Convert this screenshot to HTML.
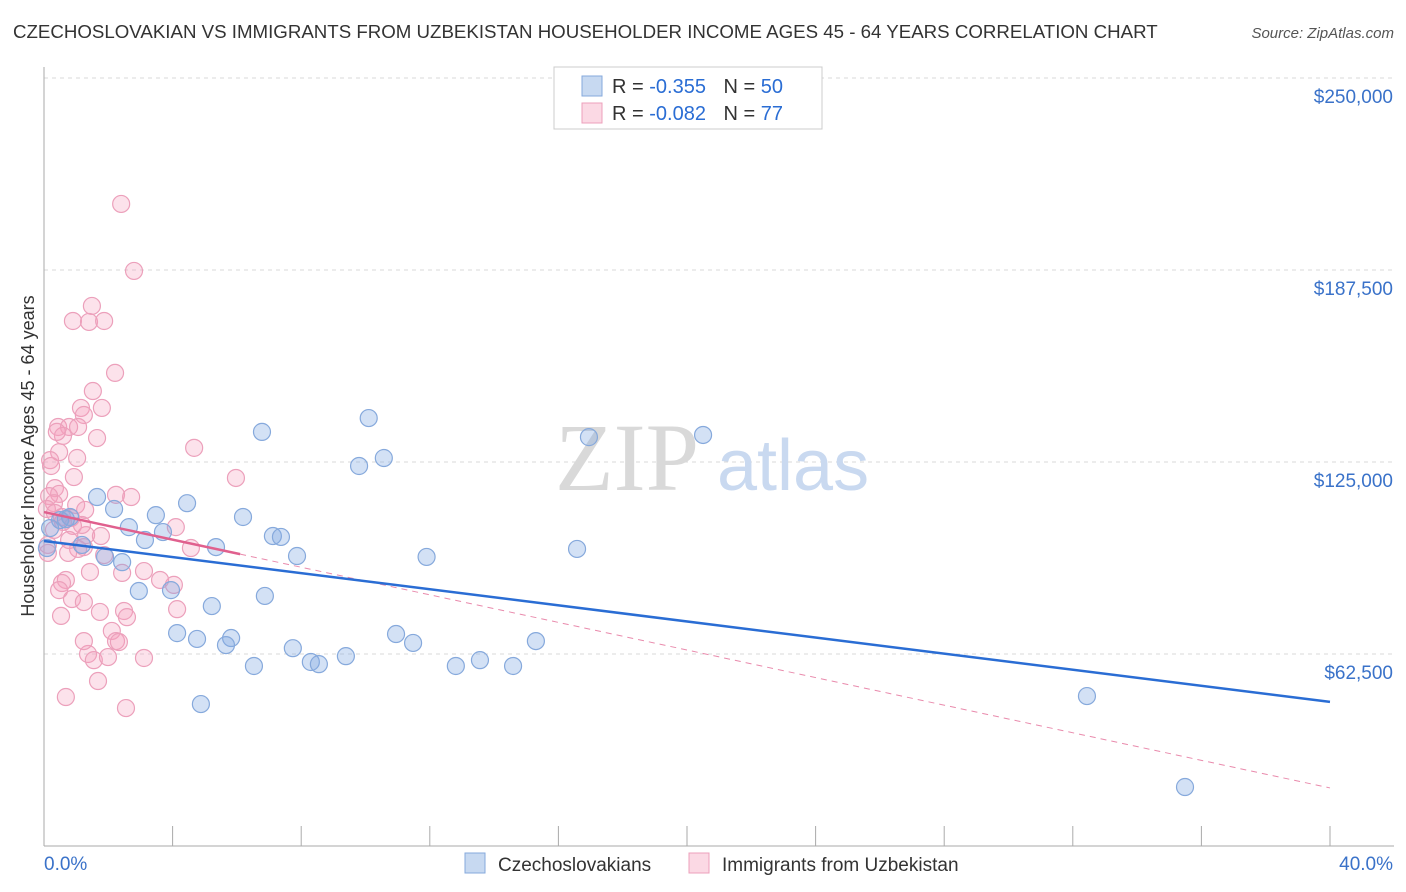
<!DOCTYPE html>
<html><head><meta charset="utf-8">
<style>
body{margin:0;background:#fff;font-family:"Liberation Sans",sans-serif;}
#wrap{position:relative;width:1406px;height:892px;overflow:hidden;}
.t{position:absolute;white-space:nowrap;}
</style></head>
<body>
<div id="wrap">
<div class="t" style="left:13px;top:21px;font-size:18.7px;color:#333;">CZECHOSLOVAKIAN VS IMMIGRANTS FROM UZBEKISTAN HOUSEHOLDER INCOME AGES 45 - 64 YEARS CORRELATION CHART</div>
<div class="t" style="right:12px;top:25px;font-size:15px;color:#555;font-style:italic;">Source: ZipAtlas.com</div>
<svg id="svg" width="1406" height="892" style="position:absolute;left:0;top:0"></svg>
</div>
<script>
const yTicks=[62500,125000,187500,250000];
const yTickLabels=["$62,500","$125,000","$187,500","$250,000"];
const xTickLabels=["0.0%","40.0%"];
const blueX=[1.65,0.68,0.5,2.18,2.64,3.48,3.14,3.7,4.45,6.19,6.78,5.35,7.12,7.37,7.87,10.1,9.8,10.57,16.95,20.5,16.58,11.9,1.18,0.09,1.9,2.43,2.95,3.95,5.22,6.87,4.14,4.76,5.82,5.66,6.53,7.74,8.3,8.55,9.39,10.95,11.48,12.81,13.56,14.59,15.3,4.88,32.44,35.49,0.81,0.19];
const blueY=[113600,106400,106100,109700,103800,107700,99600,102200,111600,107100,134800,97300,100900,100600,94400,139300,123700,126300,133100,133800,96700,94100,98000,97000,94100,92400,83000,83300,78100,81400,69300,67400,67700,65400,58600,64400,59900,59200,61800,69000,66100,58600,60500,58600,66700,46200,48800,19200,107100,103500];
const pinkX=[2.4,2.8,1.49,0.9,1.4,1.87,2.21,1.52,1.8,1.15,1.24,0.44,0.78,1.06,0.59,1.65,4.67,0.47,0.19,1.03,0.22,5.97,0.93,0.34,0.47,0.16,2.24,2.71,0.31,1.0,0.09,1.28,0.34,0.56,0.84,0.59,0.9,4.1,0.31,1.31,1.77,0.78,0.12,4.57,1.06,0.75,1.87,0.12,3.11,1.43,2.43,0.68,0.56,4.04,0.47,0.87,1.24,2.49,4.14,1.74,0.53,2.58,2.11,2.24,2.33,1.37,1.55,1.99,3.11,1.68,0.68,2.55,1.24,1.24,0.4,1.18,3.61];
const pinkY=[209000,187200,175800,170900,170600,170900,154000,148100,142600,142600,140300,136400,136400,136400,133500,132800,129600,128200,125600,126300,123700,119800,120100,116500,114600,113900,114300,113600,111600,111000,109700,109400,108400,107100,106800,105500,104200,103800,102900,101200,100900,99600,98000,97000,96700,95400,94700,95400,89500,89200,88900,86600,85600,85000,83300,80400,79400,76500,77100,76200,74900,74500,70000,66700,66400,62500,60500,61500,61200,53700,48500,44900,66700,97300,134800,104500,86600];
const blueTrend=[99300,46900];   // value at 0% and 40%
const pinkTrend=[108700,18900];  // value at 0% and 40%
const pinkSolidEnd=6.1;

const X0=44,X1=1330,Y0=846,YPER=192/62500;
const xs=v=>X0+(v/40)*(X1-X0);
const ys=v=>Y0-v*YPER;
const svg=document.getElementById('svg');
const NS='http://www.w3.org/2000/svg';
function mk(tag,at){const e=document.createElementNS(NS,tag);for(const k in at)e.setAttribute(k,at[k]);svg.appendChild(e);return e;}

yTicks.forEach((t,i)=>{
 const g=mk('line',{x1:X0,x2:1394,y1:ys(t),y2:ys(t),stroke:'#d8d8d8','stroke-dasharray':'4,4'});
 
 
 const tx=mk('text',{x:1393,y:ys(t)+25,'text-anchor':'end','font-size':19,fill:'#3a72c9','font-family':'Liberation Sans, sans-serif'});
 tx.textContent=yTickLabels[i];
 
 
});
let a=mk('line',{x1:X0,x2:X0,y1:67,y2:Y0,stroke:'#aaa'});


a=mk('line',{x1:X0,x2:1394,y1:Y0,y2:Y0,stroke:'#aaa'});


for(let i=0;i<=10;i++){
 const t=mk('line',{x1:xs(i*4),x2:xs(i*4),y1:826,y2:Y0,stroke:'#aaa'});
 
 
}
[[X0,'start',0],[1393,'end',1]].forEach(([x,an,i])=>{
 const t=mk('text',{x:x,y:870,'text-anchor':an,'font-size':19,fill:'#3a72c9','font-family':'Liberation Sans, sans-serif'});
 t.textContent=xTickLabels[i];
 
 
});
const yt=mk('text',{x:0,y:0,transform:'translate(34,456) rotate(-90)','text-anchor':'middle','font-size':18,fill:'#333','font-family':'Liberation Sans, sans-serif'});
yt.textContent='Householder Income Ages 45 - 64 years';


const wm=mk('text',{x:555,y:490,'font-size':96,fill:'#d9d9d9','font-family':'Liberation Serif, serif'});
wm.textContent='ZIP';


const wm2=mk('text',{x:717,y:490,'font-size':72,fill:'#c9d9f0','font-family':'Liberation Sans, sans-serif'});
wm2.textContent='atlas';



pinkX.forEach((x,i)=>{
 const c=mk('circle',{cx:xs(x),cy:ys(pinkY[i]),r:8.5,fill:'rgba(244,160,188,0.3)',stroke:'#eca0bb','stroke-width':1.2});
 
 
});
blueX.forEach((x,i)=>{
 const c=mk('circle',{cx:xs(x),cy:ys(blueY[i]),r:8.5,fill:'rgba(130,170,225,0.35)',stroke:'#86a9dc','stroke-width':1.2});
 
 
});
const pv=x=>pinkTrend[0]+(pinkTrend[1]-pinkTrend[0])*x/40;
let l=mk('line',{x1:xs(pinkSolidEnd),y1:ys(pv(pinkSolidEnd)),x2:xs(40),y2:ys(pinkTrend[1]),stroke:'#e98aac','stroke-width':1,'stroke-dasharray':'6,5'});


l=mk('line',{x1:xs(0),y1:ys(pinkTrend[0]),x2:xs(pinkSolidEnd),y2:ys(pv(pinkSolidEnd)),stroke:'#e0608e','stroke-width':2.5});


l=mk('line',{x1:xs(0),y1:ys(blueTrend[0]),x2:xs(40),y2:ys(blueTrend[1]),stroke:'#2a6dd4','stroke-width':2.5});



const lb=mk('rect',{x:554,y:67,width:268,height:62,fill:'#fff',stroke:'#ccc'});


[[76,'rgba(130,170,225,0.45)','#86a9dc','-0.355','50'],[103,'rgba(244,160,188,0.4)','#eca0bb','-0.082','77']].forEach(([y,f,s,r,n])=>{
 const sw=mk('rect',{x:582,y:y,width:20,height:20,fill:f,stroke:s});
 
 
 const t=mk('text',{x:612,y:y+17,'font-size':20,fill:'#333','font-family':'Liberation Sans, sans-serif'});
 t.innerHTML='R = <tspan fill="#2a6dd4">'+r+'</tspan>   <tspan dx="12">N = </tspan><tspan fill="#2a6dd4">'+n+'</tspan>';
 t.setAttribute('xml:space','preserve');
 
 
});
[[465,'rgba(130,170,225,0.45)','#86a9dc','Czechoslovakians','legend-czechoslovakians'],[689,'rgba(244,160,188,0.4)','#eca0bb','Immigrants from Uzbekistan','legend-uzbekistan']].forEach(([x,f,s,txt,nm])=>{
 const sw=mk('rect',{x:x,y:853,width:20,height:20,fill:f,stroke:s});
 
 
 const t=mk('text',{x:x+33,y:871,'font-size':19,fill:'#333','font-family':'Liberation Sans, sans-serif'});
 t.textContent=txt;
 
 
});
</script>
</body></html>
